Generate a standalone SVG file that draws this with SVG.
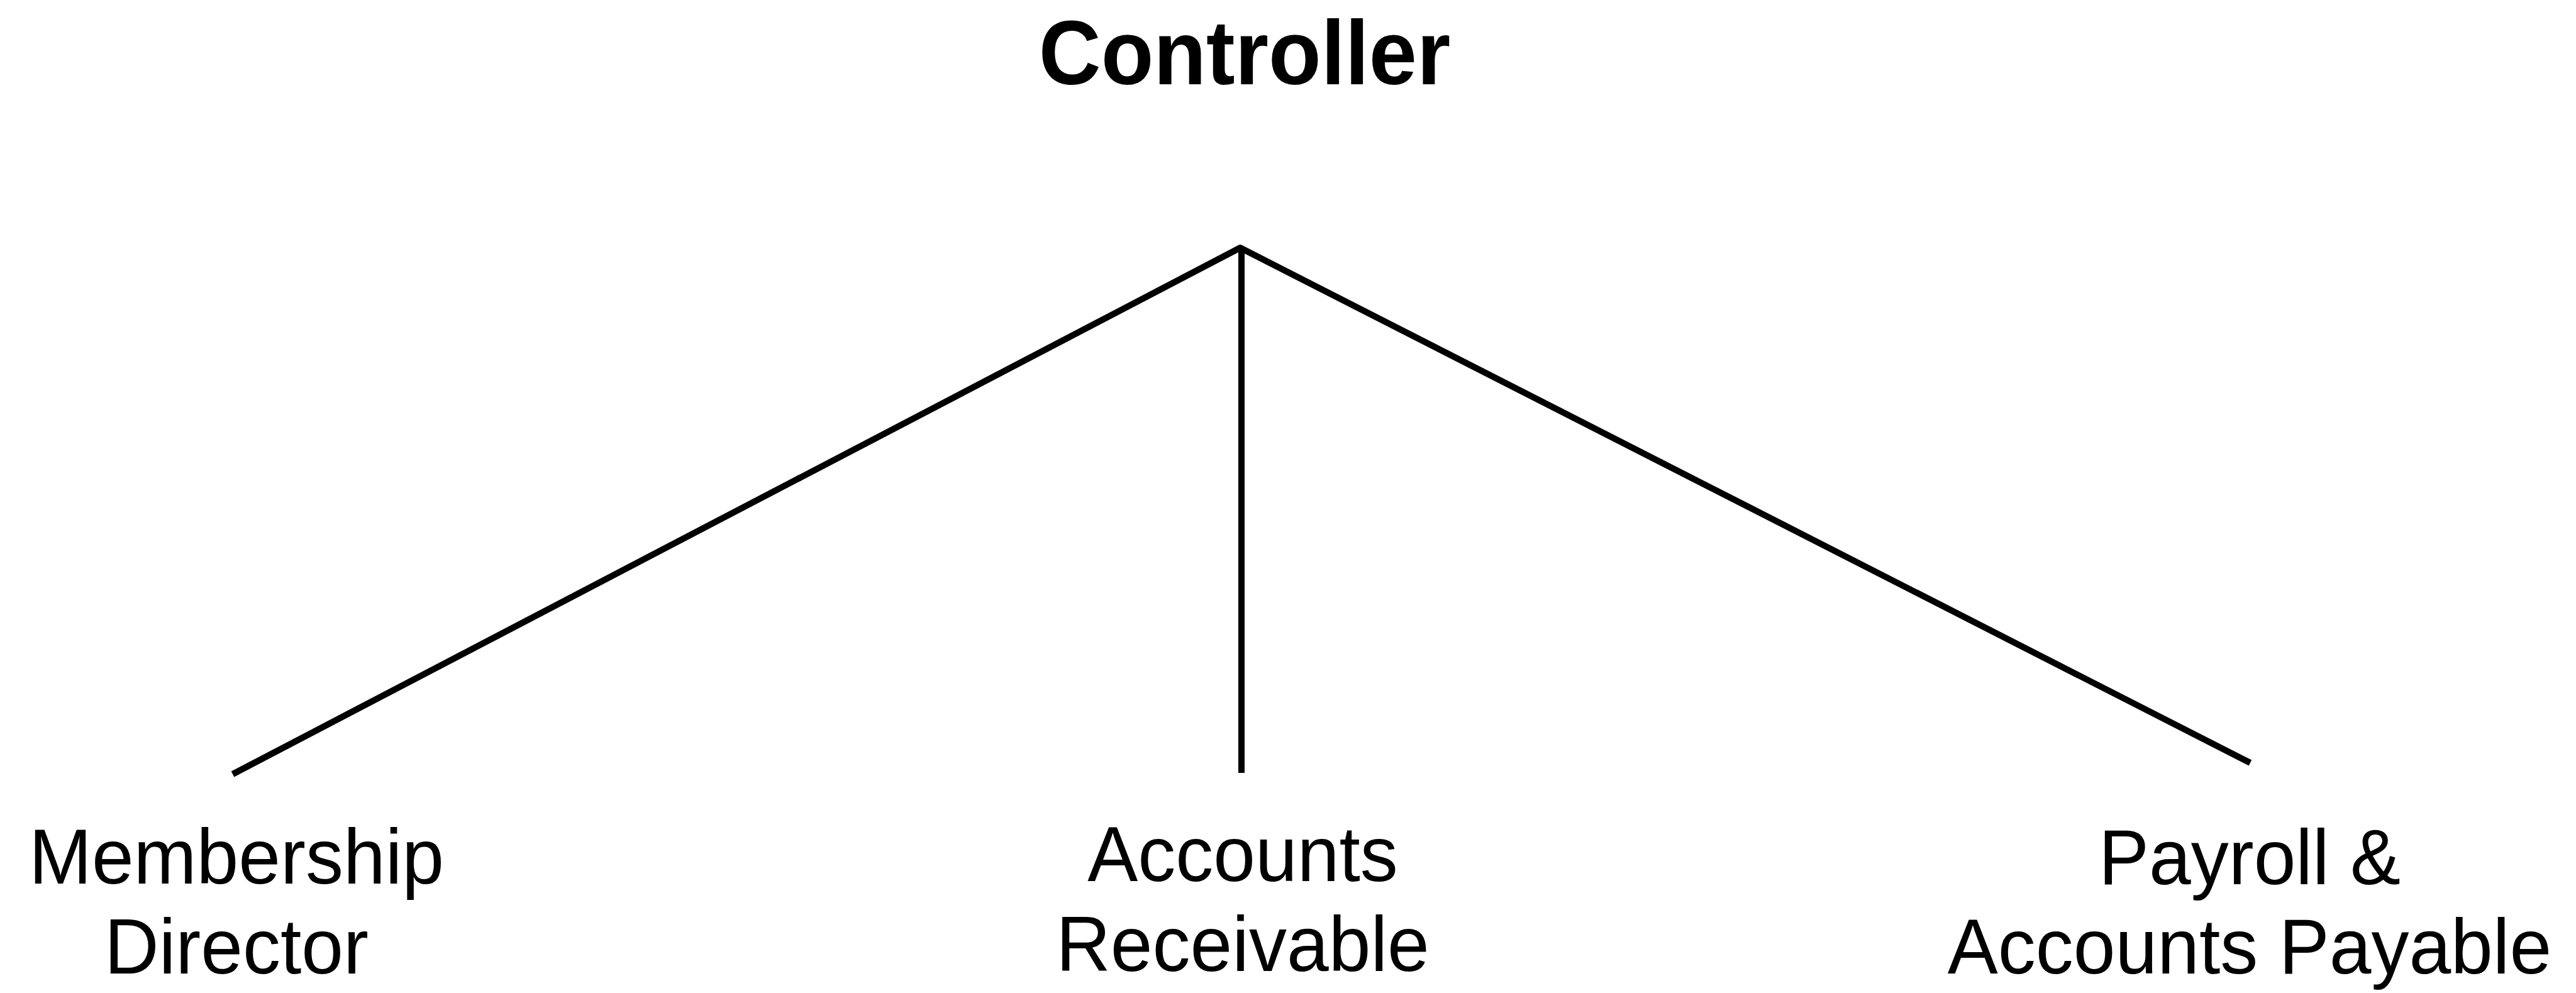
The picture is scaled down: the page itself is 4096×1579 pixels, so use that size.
<svg xmlns="http://www.w3.org/2000/svg" width="4096" height="1579" viewBox="0 0 4096 1579">
  <style>
    .title { font-family: "Liberation Sans", Arial, sans-serif; font-weight: bold; font-size: 137px; fill: #000; text-anchor: middle; }
    .label { font-family: "Liberation Sans", Arial, sans-serif; font-size: 120px; fill: #000; text-anchor: middle; }
    .link { fill: none; stroke: #000; stroke-width: 10; stroke-linejoin: round; stroke-linecap: butt; }
  </style>
  <rect width="4096" height="1579" fill="#fff"/>

  <!-- connectors from the controller apex down to each role -->
  <g id="connectors">
    <polyline class="link" points="370,1231 1972,394 3578,1213"/>
    <line class="link" x1="1974" y1="394" x2="1974" y2="1229"/>
  </g>

  <g id="controller">
    <text class="title" transform="translate(1979,134) scale(1,1.05)">Controller</text>
  </g>

  <g id="membership-director">
    <text class="label" transform="translate(376,1405) scale(1,1.04)">Membership</text>
    <text class="label" transform="translate(376,1548) scale(1,1.04)">Director</text>
  </g>

  <g id="accounts-receivable">
    <text class="label" transform="translate(1976,1401) scale(1,1.04)">Accounts</text>
    <text class="label" transform="translate(1976,1544) scale(1,1.04)">Receivable</text>
  </g>

  <g id="payroll-accounts-payable">
    <text class="label" transform="translate(3577,1406) scale(1,1.04)">Payroll &amp;</text>
    <text class="label" transform="translate(3577,1548) scale(1,1.04)">Accounts Payable</text>
  </g>
</svg>
